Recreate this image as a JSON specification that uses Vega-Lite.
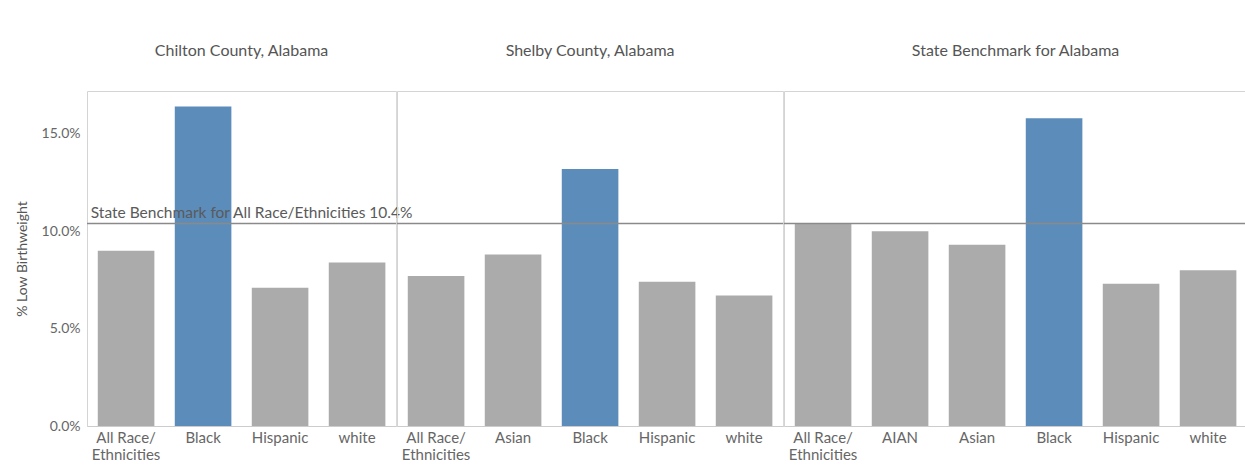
{
  "$schema": "https://vega.github.io/schema/vega-lite/v6.json",
  "padding": {"left": 15, "top": 43, "right": 0, "bottom": 0},
  "background": "white",
  "data": {"values": [
    {"region": "Chilton County, Alabama", "category": "All Race/Ethnicities", "pct": 9.0},
    {"region": "Chilton County, Alabama", "category": "Black", "pct": 16.4},
    {"region": "Chilton County, Alabama", "category": "Hispanic", "pct": 7.1},
    {"region": "Chilton County, Alabama", "category": "white", "pct": 8.4},
    {"region": "Shelby County, Alabama", "category": "All Race/Ethnicities", "pct": 7.7},
    {"region": "Shelby County, Alabama", "category": "Asian", "pct": 8.8},
    {"region": "Shelby County, Alabama", "category": "Black", "pct": 13.2},
    {"region": "Shelby County, Alabama", "category": "Hispanic", "pct": 7.4},
    {"region": "Shelby County, Alabama", "category": "white", "pct": 6.7},
    {"region": "State Benchmark for Alabama", "category": "All Race/Ethnicities", "pct": 10.4},
    {"region": "State Benchmark for Alabama", "category": "AIAN", "pct": 10.0},
    {"region": "State Benchmark for Alabama", "category": "Asian", "pct": 9.3},
    {"region": "State Benchmark for Alabama", "category": "Black", "pct": 15.8},
    {"region": "State Benchmark for Alabama", "category": "Hispanic", "pct": 7.3},
    {"region": "State Benchmark for Alabama", "category": "white", "pct": 8.0}
  ]},
  "config": {
    "font": "Lato",
    "view": {"stroke": "#d4d4d4", "strokeWidth": 1},
    "axis": {"labelColor": "#666", "titleColor": "#555", "labelFont": "Lato", "titleFont": "Lato", "ticks": false, "grid": false}
  },
  "spacing": 0,
  "bounds": "flush",
  "facet": {
    "column": {
      "field": "region",
      "type": "nominal",
      "sort": ["Chilton County, Alabama", "Shelby County, Alabama", "State Benchmark for Alabama"],
      "header": {"title": null, "labelOrient": "top", "labelFontSize": 16, "labelColor": "#555", "labelFont": "Lato", "labelPadding": 32}
    }
  },
  "resolve": {"scale": {"x": "independent"}},
  "spec": {
    "width": {"step": 77},
    "height": 335,
    "layer": [
      {
        "mark": {"type": "bar"},
        "encoding": {
          "x": {
            "field": "category", "type": "nominal",
            "sort": ["All Race/Ethnicities", "AIAN", "Asian", "Black", "Hispanic", "white"],
            "scale": {"paddingInner": 0.265, "paddingOuter": 0.14},
            "axis": {"title": null, "labelAngle": 0, "labelFontSize": 15, "labelPadding": 4, "domainColor": "#cccccc", "labelExpr": "datum.label == 'All Race/Ethnicities' ? ['All Race/', 'Ethnicities'] : datum.label", "labelLineHeight": 17}
          },
          "y": {
            "field": "pct", "type": "quantitative",
            "scale": {"domain": [0, 17.2], "nice": false},
            "axis": {"title": "% Low Birthweight", "titleFontSize": 14, "titleFontWeight": "normal", "titlePadding": 12, "labelFontSize": 14, "labelPadding": 7, "domain": false, "values": [0, 5, 10, 15], "labelExpr": "format(datum.value, '.1f') + '%'"}
          },
          "color": {"condition": {"test": "datum.category == 'Black'", "value": "#5b8cba"}, "value": "#ababab"}
        }
      },
      {
        "transform": [{"filter": "datum.category == 'All Race/Ethnicities'"}],
        "mark": {"type": "rule", "color": "#8a8a8a", "strokeWidth": 1.5},
        "encoding": {"y": {"datum": 10.4}}
      },
      {
        "transform": [{"filter": "datum.category == 'All Race/Ethnicities' && datum.region == 'Chilton County, Alabama'"}],
        "mark": {"type": "text", "align": "left", "baseline": "bottom", "dx": -7, "dy": -2, "fontSize": 15.5, "color": "#5a5a5a", "font": "Lato"},
        "encoding": {
          "x": {"field": "category", "type": "nominal", "bandPosition": 0, "sort": ["All Race/Ethnicities", "AIAN", "Asian", "Black", "Hispanic", "white"]},
          "y": {"datum": 10.4},
          "text": {"value": "State Benchmark for All Race/Ethnicities 10.4%"}
        }
      }
    ]
  }
}
